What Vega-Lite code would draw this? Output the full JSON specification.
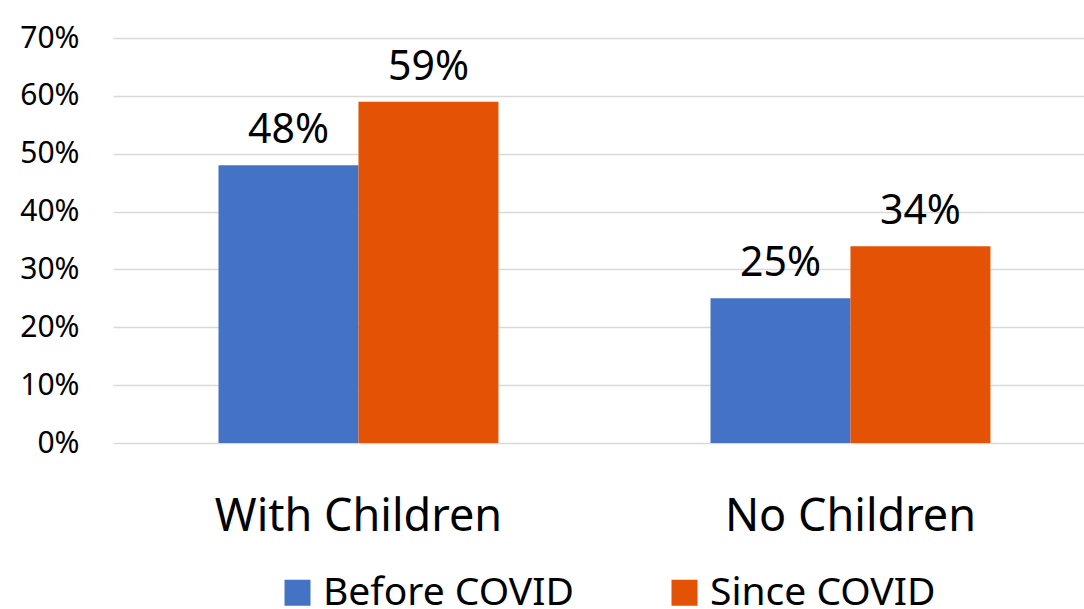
{
  "$schema": "https://vega.github.io/schema/vega-lite/v6.json",
  "autosize": "none",
  "width": 971,
  "height": 405,
  "padding": {"left": 113, "top": 38, "right": 0, "bottom": 166},
  "background": "white",
  "config": {
    "font": "Noto Sans",
    "view": {"stroke": null}
  },
  "data": {
    "values": [
      {"group": "With Children", "period": "Before COVID", "share": 0.48},
      {"group": "With Children", "period": "Since COVID", "share": 0.59},
      {"group": "No Children", "period": "Before COVID", "share": 0.25},
      {"group": "No Children", "period": "Since COVID", "share": 0.34}
    ]
  },
  "encoding": {
    "x": {
      "field": "group",
      "type": "nominal",
      "sort": ["With Children", "No Children"],
      "scale": {"paddingInner": 0.431, "paddingOuter": 0.2023, "align": 0.53},
      "axis": {
        "title": null,
        "labelAngle": 0,
        "labelFontSize": 45,
        "labelColor": "#000000",
        "labelBaseline": "alphabetic",
        "labelPadding": 87,
        "labelLimit": 0,
        "ticks": false,
        "tickSize": 0,
        "domain": false
      }
    },
    "xOffset": {
      "field": "period",
      "type": "nominal",
      "sort": ["Before COVID", "Since COVID"],
      "scale": {"paddingInner": 0, "paddingOuter": 0}
    },
    "y": {
      "field": "share",
      "type": "quantitative",
      "scale": {"domain": [0, 0.7]},
      "axis": {
        "title": null,
        "format": ".0%",
        "values": [0, 0.1, 0.2, 0.3, 0.4, 0.5, 0.6, 0.7],
        "labelFontSize": 30,
        "labelColor": "#000000",
        "labelPadding": 34,
        "ticks": false,
        "domain": false,
        "grid": true,
        "gridColor": "#d9d9d9",
        "gridWidth": 1.5
      }
    }
  },
  "layer": [
    {
      "mark": {"type": "bar"},
      "encoding": {
        "color": {
          "field": "period",
          "type": "nominal",
          "sort": ["Before COVID", "Since COVID"],
          "scale": {"domain": ["Before COVID", "Since COVID"], "range": ["#4472C4", "#E35205"]},
          "legend": {
            "title": null,
            "orient": "none",
            "legendX": 165,
            "legendY": 535,
            "direction": "horizontal",
            "columns": 2,
            "columnPadding": 91,
            "symbolType": "square",
            "symbolSize": 676,
            "symbolStrokeWidth": 0,
            "symbolOpacity": 1,
            "labelFontSize": 39,
            "labelColor": "#000000",
            "labelOffset": 6,
            "labelLimit": 400
          }
        }
      }
    },
    {
      "mark": {"type": "text", "baseline": "alphabetic", "dy": -22, "fontSize": 41, "color": "#000000"},
      "encoding": {
        "text": {"field": "share", "type": "quantitative", "format": ".0%"}
      }
    }
  ]
}
